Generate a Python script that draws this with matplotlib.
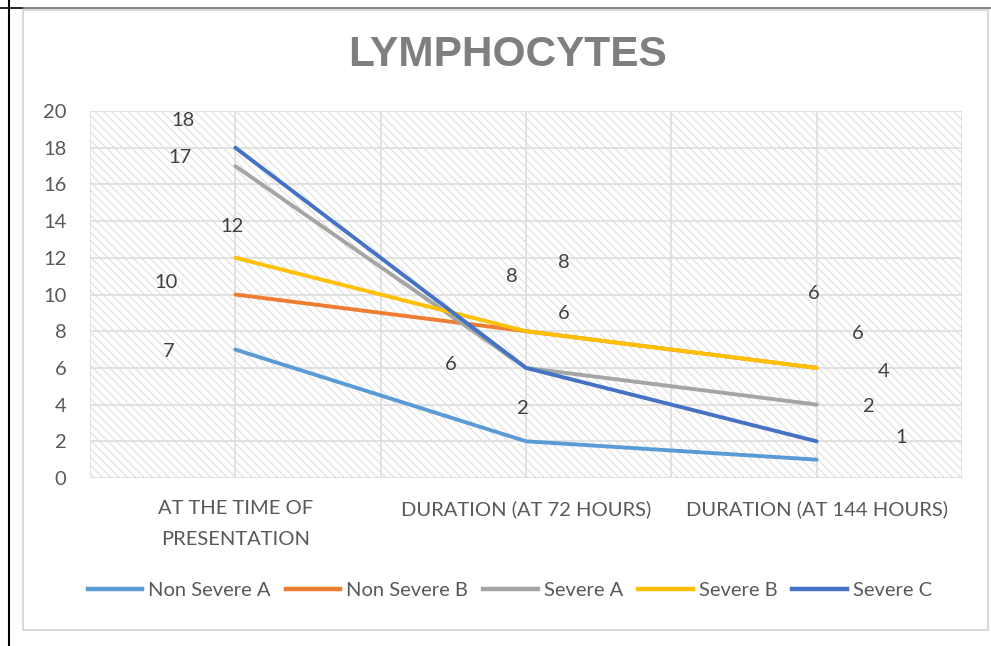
import matplotlib
matplotlib.use("Agg")
import matplotlib.pyplot as plt
from matplotlib.patches import Rectangle
from matplotlib.lines import Line2D

# data
categories = ["AT THE TIME OF\nPRESENTATION", "DURATION (AT 72 HOURS)", "DURATION (AT 144 HOURS)"]
series_names = ["Non Severe A", "Non Severe B", "Severe A", "Severe B", "Severe C"]
non_severe_a = [7, 2, 1]
non_severe_b = [10, 8, 6]
severe_a = [17, 6, 4]
severe_b = [12, 8, 6]
severe_c = [18, 6, 2]
y_ticks = [0, 2, 4, 6, 8, 10, 12, 14, 16, 18, 20]

series = [non_severe_a, non_severe_b, severe_a, severe_b, severe_c]
colors = ["#5B9BD5", "#ED7D31", "#A5A5A5", "#FFC000", "#4472C4"]

# where excel dropped the data labels (offset from the point, data units)
label_offsets = [
    [(-0.23, -0.13), (-0.01, 1.81), (0.29, 1.23)],
    [(-0.24, 0.63), (-0.05, 3.0), (-0.01, 4.08)],
    [(-0.19, 0.44), (0.13, 2.99), (0.23, 1.78)],
    [(-0.01, 1.68), (0.13, 3.77), (0.14, 1.9)],
    [(-0.18, 1.5), (-0.26, 0.16), (0.18, 1.92)],
]

plt.rcParams['font.family'] = ['Lato', 'DejaVu Sans']
plt.rcParams['hatch.linewidth'] = 0.9

W, H = 991, 646
fig = plt.figure(figsize=(W / 100, H / 100), dpi=100)
ax = fig.add_axes([90 / W, 1 - 478 / H, (962 - 90) / W, (478 - 111) / H])

# hatched plot background
ax.add_patch(Rectangle((0, 0), 1, 1, transform=ax.transAxes, facecolor="white",
                       edgecolor="#E2E2E2", linewidth=0, hatch="\\\\\\\\", zorder=0))

grid_c = "#DDDDDD"
for yv in y_ticks:
    ax.axhline(yv, color=grid_c, lw=1.2, zorder=1)
for xv in [-0.5, 0, 0.5, 1, 1.5, 2, 2.5]:
    ax.axvline(xv, color=grid_c, lw=1.2, zorder=1)

x = list(range(len(categories)))
for name, vals, c, offs in zip(series_names, series, colors, label_offsets):
    ax.plot(x, vals, color=c, lw=2.8, solid_capstyle="round", zorder=3, label=name)
    for xi, v, (dx, dy) in zip(x, vals, offs):
        ax.text(xi + dx, v + dy, str(v), ha="center", va="center",
                fontsize=14.5, color="#404040", zorder=4)

ax.set_xlim(-0.5, 2.5)
ax.set_ylim(0, 20)
ax.set_yticks(y_ticks)
ax.set_xticks(x)
ax.set_xticklabels(categories, linespacing=2.0)
ax.tick_params(axis="y", length=0, pad=17, labelsize=14.5, labelcolor="#595959")
ax.tick_params(axis="x", length=0, pad=16, labelsize=14.5, labelcolor="#595959")
for s in ax.spines.values():
    s.set_visible(False)

fig.text(507 / W, 1 - 55 / H, "LYMPHOCYTES", ha="center", va="center",
         fontsize=30.5, fontweight="bold", color="#7F7F7F", family="Liberation Sans")

handles = [Line2D([], [], color=c, lw=3.2) for c in colors]
fig.legend(handles, series_names, loc="center", bbox_to_anchor=(510 / W, 1 - 590 / H),
           ncol=5, frameon=False, fontsize=14.5, handlelength=2.7, handletextpad=0.3,
           columnspacing=0.75, labelcolor="#595959")

# chart frame and the sheet borders around it
fig.add_artist(Rectangle((23 / W, 1 - 630 / H), (988 - 23) / W, (630 - 10) / H,
                         transform=fig.transFigure, fill=False, edgecolor="#D9D9D9", lw=1.5))
fig.add_artist(Line2D([9 / W, 9 / W], [0, 1], transform=fig.transFigure, color="black", lw=1.5))
fig.add_artist(Line2D([0, 23 / W], [1 - 8 / H] * 2, transform=fig.transFigure, color="black", lw=1.2))
fig.add_artist(Line2D([23 / W, 1], [1 - 8 / H] * 2, transform=fig.transFigure, color="#6E6E6E", lw=1.2))

fig.savefig("out.png", dpi=100)
